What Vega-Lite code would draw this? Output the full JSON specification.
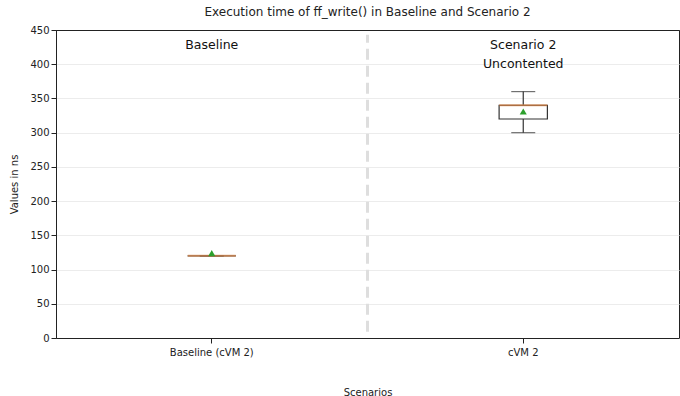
{
  "$schema": "https://vega.github.io/schema/vega-lite/v6.json",
  "width": 623,
  "height": 308,
  "autosize": "none",
  "padding": {"left": 56, "top": 30, "right": 1, "bottom": 58},
  "background": "white",
  "config": {
    "font": "DejaVu Sans",
    "view": {"stroke": "#222", "strokeWidth": 1},
    "axisY": {"values": [0, 50, 100, 150, 200, 250, 300, 350, 400, 450], "tickCount": 10, "labelOverlap": false, "labelFlush": false, "titleFontWeight": "normal", "titleFontSize": 10, "labelFontSize": 10, "labelColor": "#222", "titleColor": "#222", "domainColor": "#222", "tickColor": "#222", "gridColor": "#ececec", "titlePadding": 10}
  },
  "title": {"text": "Execution time of ff_write() in Baseline and Scenario 2", "fontSize": 12, "fontWeight": "normal", "color": "#222", "offset": 6},
  "datasets": {
    "stats": [
      {"scenario": "Baseline (cVM 2)", "min": 120, "q1": 120, "median": 120, "q3": 120, "max": 120, "mean": 124},
      {"scenario": "cVM 2", "min": 300, "q1": 320, "median": 340, "q3": 340, "max": 360, "mean": 331}
    ],
    "labels": [
      {"scenario": "Baseline (cVM 2)", "label": "Baseline", "y": 428},
      {"scenario": "cVM 2", "label": "Scenario 2", "y": 428},
      {"scenario": "cVM 2", "label": "Uncontented", "y": 400}
    ]
  },
  "encoding": {
    "x": {
      "field": "scenario", "type": "nominal",
      "scale": {"paddingInner": 0, "paddingOuter": 0},
      "axis": {"title": "Scenarios", "titlePadding": 30, "titleFontWeight": "normal", "titleFontSize": 10, "labelAngle": 0, "labelFontSize": 10, "labelColor": "#222", "titleColor": "#222", "domainColor": "#222", "tickColor": "#222", "labelPadding": 4}
    }
  },
  "layer": [
    {
      "data": {"name": "stats"},
      "mark": {"type": "rule", "color": "#333", "strokeWidth": 1.2},
      "encoding": {
        "y": {"field": "min", "type": "quantitative", "scale": {"domain": [0, 450], "nice": false},
          "axis": {"title": "Values in ns", "values": [0, 50, 100, 150, 200, 250, 300, 350, 400, 450], "gridColor": {"condition": {"test": "datum.value === 450", "value": "#222"}, "value": "#ececec"}}},
        "y2": {"field": "q1"}
      }
    },
    {
      "data": {"name": "stats"},
      "mark": {"type": "rule", "color": "#333", "strokeWidth": 1.2},
      "encoding": {"y": {"field": "q3", "type": "quantitative", "axis": {"title": "Values in ns", "values": [0, 50, 100, 150, 200, 250, 300, 350, 400, 450], "gridColor": {"condition": {"test": "datum.value === 450", "value": "#222"}, "value": "#ececec"}}}, "y2": {"field": "max"}}
    },
    {
      "data": {"name": "stats"},
      "mark": {"type": "tick", "color": "#333", "size": 24, "thickness": 1.2},
      "encoding": {"y": {"field": "min", "type": "quantitative", "axis": {"title": "Values in ns", "values": [0, 50, 100, 150, 200, 250, 300, 350, 400, 450], "gridColor": {"condition": {"test": "datum.value === 450", "value": "#222"}, "value": "#ececec"}}}}
    },
    {
      "data": {"name": "stats"},
      "mark": {"type": "tick", "color": "#333", "size": 24, "thickness": 1.2},
      "encoding": {"y": {"field": "max", "type": "quantitative", "axis": {"title": "Values in ns", "values": [0, 50, 100, 150, 200, 250, 300, 350, 400, 450], "gridColor": {"condition": {"test": "datum.value === 450", "value": "#222"}, "value": "#ececec"}}}}
    },
    {
      "data": {"name": "stats"},
      "mark": {"type": "bar", "fill": "white", "stroke": "#333", "strokeWidth": 1.2, "width": {"band": 0.155}},
      "encoding": {"y": {"field": "q1", "type": "quantitative", "axis": {"title": "Values in ns", "values": [0, 50, 100, 150, 200, 250, 300, 350, 400, 450], "gridColor": {"condition": {"test": "datum.value === 450", "value": "#222"}, "value": "#ececec"}}}, "y2": {"field": "q3"}}
    },
    {
      "data": {"name": "stats"},
      "mark": {"type": "tick", "color": "#e0894a", "size": 48, "thickness": 2},
      "encoding": {"y": {"field": "median", "type": "quantitative", "axis": {"title": "Values in ns", "values": [0, 50, 100, 150, 200, 250, 300, 350, 400, 450], "gridColor": {"condition": {"test": "datum.value === 450", "value": "#222"}, "value": "#ececec"}}}}
    },
    {
      "data": {"name": "stats"},
      "mark": {"type": "point", "shape": "triangle-up", "filled": true, "color": "#2ca02c", "size": 50, "opacity": 1},
      "encoding": {"y": {"field": "mean", "type": "quantitative", "axis": {"title": "Values in ns", "values": [0, 50, 100, 150, 200, 250, 300, 350, 400, 450], "gridColor": {"condition": {"test": "datum.value === 450", "value": "#222"}, "value": "#ececec"}}}}
    },
    {
      "data": {"values": [{"scenario": "Baseline (cVM 2)", "y1": 9, "y2": 443}]},
      "mark": {"type": "rule", "color": "#dedede", "strokeWidth": 3, "strokeDash": [11, 6]},
      "encoding": {
        "x": {"field": "scenario", "type": "nominal", "bandPosition": 1},
        "y": {"field": "y1", "type": "quantitative", "axis": {"title": "Values in ns", "values": [0, 50, 100, 150, 200, 250, 300, 350, 400, 450], "gridColor": {"condition": {"test": "datum.value === 450", "value": "#222"}, "value": "#ececec"}}},
        "y2": {"field": "y2"}
      }
    },
    {
      "data": {"name": "labels"},
      "mark": {"type": "text", "fontSize": 12.5, "color": "#111"},
      "encoding": {
        "y": {"field": "y", "type": "quantitative", "axis": {"title": "Values in ns", "values": [0, 50, 100, 150, 200, 250, 300, 350, 400, 450], "gridColor": {"condition": {"test": "datum.value === 450", "value": "#222"}, "value": "#ececec"}}},
        "text": {"field": "label"}
      }
    }
  ]
}
